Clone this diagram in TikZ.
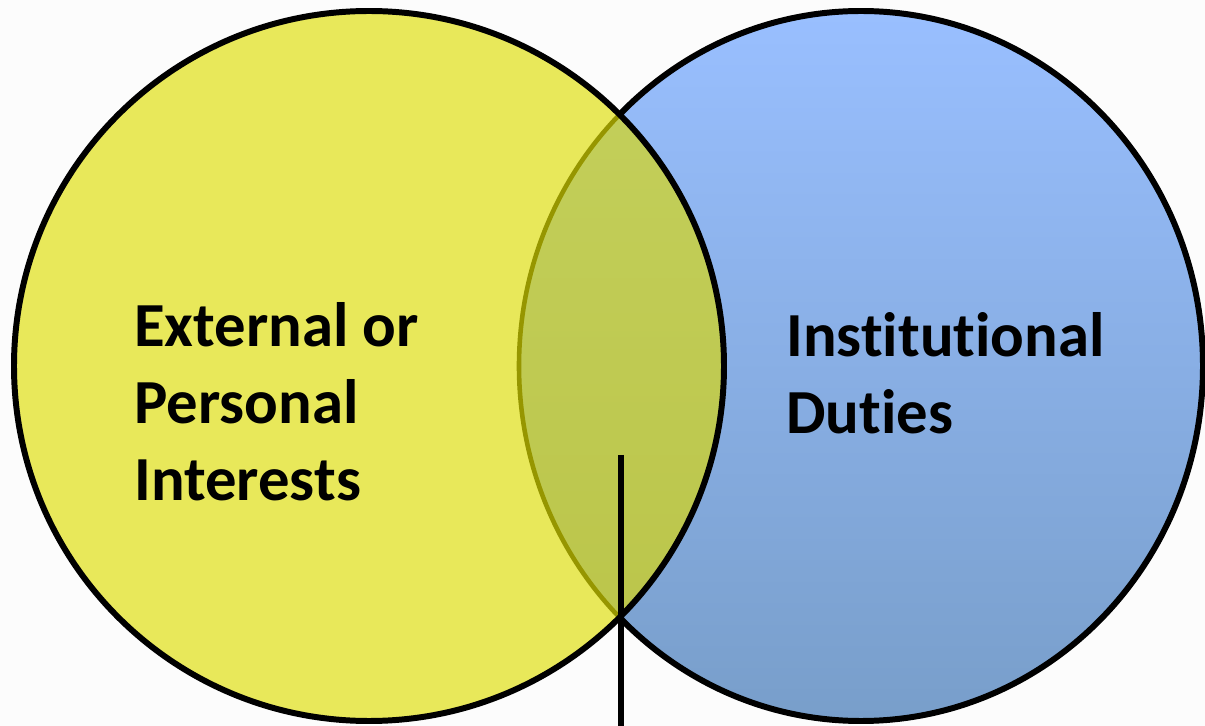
\documentclass[tikz,border=0pt]{standalone}
\usepackage{fontspec}
\setmainfont{Carlito}[Ligatures={NoCommon}]
\usetikzlibrary{positioning}

\definecolor{venbg}{RGB}{252,252,252}
\definecolor{venyellow}{RGB}{232,232,90}
\definecolor{venbluetop}{RGB}{153,191,255}
\definecolor{venbluebot}{RGB}{120,158,202}
\definecolor{venlaptop}{RGB}{196,208,92}
\definecolor{venlapbot}{RGB}{186,196,72}
\definecolor{venolive}{RGB}{150,150,0}

\tikzset{
  ring/.style={draw=black, line width=3.4pt},
  setname/.style={font=\fontsize{35.7}{44}\selectfont\bfseries, align=left,
    inner sep=0pt, anchor=north west},
}

\begin{document}
\begin{tikzpicture}[x=0.02cm, y=-0.02cm]
  \fill[venbg] (0,0) rectangle (1205,726);
  \useasboundingbox (0,0) rectangle (1205,726);

  \coordinate (yc) at (369,366);
  \coordinate (bc) at (861,366);

  % institutional duties
  \shade[top color=venbluetop, bottom color=venbluebot]
    (bc) ellipse [x radius=342, y radius=355];
  \draw[ring] (bc) ellipse [x radius=342, y radius=355];

  % personal interests
  \fill[venyellow] (yc) circle [radius=355];
  \begin{scope}
    \clip (yc) circle [radius=355];
    \shade[top color=venlaptop, bottom color=venlapbot]
      (bc) ellipse [x radius=342, y radius=355];
    \draw[venolive, line width=2.6pt] (bc) ellipse [x radius=342, y radius=355];
  \end{scope}
  \draw[ring] (yc) circle [radius=355];

  \node (pers) [setname] at (134,302) {External or\\Personal\\Interests};
  \node (inst) [setname] at (786,312) {Institutional\\Duties};

  % pointer out of the overlap
  \coordinate (tip) at (621,455);
  \coordinate (foot) at (621,726);
  \draw[line width=2.9pt] (tip) -- (foot);
\end{tikzpicture}
\end{document}
